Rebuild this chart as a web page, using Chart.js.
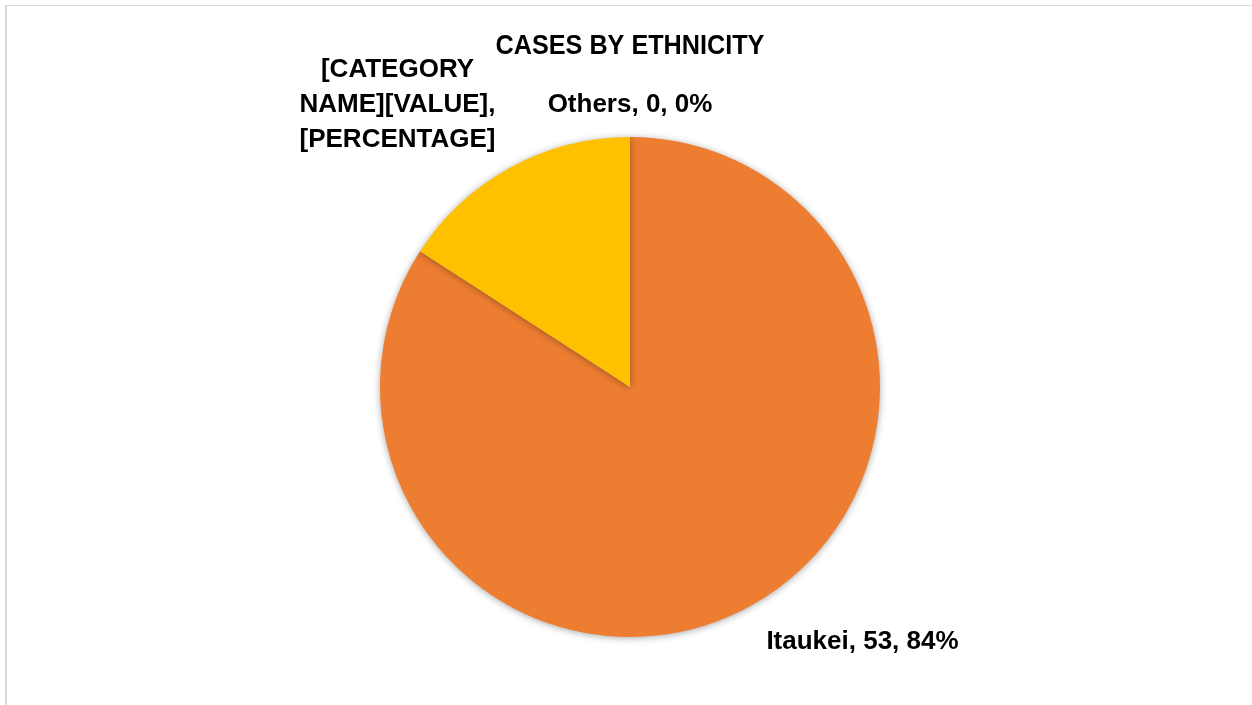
<!DOCTYPE html>
<html>
<head>
<meta charset="utf-8">
<script src="https://cdn.jsdelivr.net/npm/chart.js@4/dist/chart.umd.min.js"></script>
<style>
  html, body { margin: 0; padding: 0; background: #fff; overflow: hidden; }
  #frame {
    position: absolute; left: 5px; top: 5px; width: 1300px; height: 760px;
    border-left: 2px solid #d9d9d9; border-top: 1px solid #d9d9d9;
  }
  #wrap { position: absolute; left: 0; top: 0; width: 1252px; height: 705px; }
</style>
</head>
<body>
<div id="frame"></div>
<div id="wrap"><canvas id="pie"></canvas></div>
<script>
// chart data
const chartTitle = 'CASES BY ETHNICITY';
const categories = ['Itaukei', '[CATEGORY NAME]', 'Others'];
const caseCounts = [53, 10, 0];
const sliceColors = ['#ED7D31', '#FFC000', '#A5A5A5'];
// the second label is broken in the original file, it shows the field codes
const brokenLabel = [false, true, false];

const FONT = '"Liberation Sans", Arial, sans-serif';

function labelLines(i) {
  if (brokenLabel[i]) return ['[CATEGORY', 'NAME][VALUE],', '[PERCENTAGE]'];
  const total = caseCounts.reduce(function(s, v) { return s + v; }, 0);
  const pct = Math.round(caseCounts[i] / total * 100);
  return [categories[i] + ', ' + caseCounts[i] + ', ' + pct + '%'];
}

// where each label sits, in radii from the pie centre
const labelSpots = [
  { dx: 0.93, dy: 1.02 },
  { dx: -0.93, dy: -1.13 },
  { dx: 0, dy: -1.13 }
];

// soft shadow round the pie, like the Excel one
const shadowPlugin = {
  id: 'pieShadow',
  beforeDatasetsDraw(chart) {
    const ctx = chart.ctx;
    ctx.save();
    ctx.shadowColor = 'rgba(0,0,0,0.35)';
    ctx.shadowBlur = 7;
    ctx.shadowOffsetX = 0;
    ctx.shadowOffsetY = 1;
  },
  afterDatasetsDraw(chart) {
    chart.ctx.restore();
  }
};

// title drawn by hand so it can be squeezed a little (Calibri is narrow)
const titlePlugin = {
  id: 'narrowTitle',
  afterDraw(chart) {
    const ctx = chart.ctx;
    const arc = chart.getDatasetMeta(0).data[0];
    ctx.save();
    ctx.fillStyle = '#000';
    ctx.font = 'bold 28px ' + FONT;
    ctx.textAlign = 'center';
    ctx.textBaseline = 'middle';
    ctx.translate(arc.x, 46);
    ctx.scale(0.9, 1);
    ctx.fillText(chartTitle, 0, 0);
    ctx.restore();
  }
};

const labelPlugin = {
  id: 'sliceLabels',
  afterDraw(chart) {
    const ctx = chart.ctx;
    const arcs = chart.getDatasetMeta(0).data;
    ctx.save();
    ctx.fillStyle = '#000';
    ctx.font = 'bold 26px ' + FONT;
    ctx.textAlign = 'center';
    ctx.textBaseline = 'middle';
    arcs.forEach(function(arc, i) {
      const r = arc.outerRadius;
      const x = arc.x + labelSpots[i].dx * r;
      const y = arc.y + labelSpots[i].dy * r;
      const lines = labelLines(i);
      const lh = 35;
      lines.forEach(function(line, k) {
        ctx.fillText(line, x, y + (k - (lines.length - 1) / 2) * lh);
      });
    });
    ctx.restore();
  }
};

new Chart(document.getElementById('pie'), {
  type: 'pie',
  data: {
    labels: categories,
    datasets: [{
      data: caseCounts,
      backgroundColor: sliceColors,
      borderWidth: 0
    }]
  },
  options: {
    responsive: true,
    maintainAspectRatio: false,
    animation: false,
    layout: { padding: { top: 137, bottom: 68, left: 8, right: 0 } },
    plugins: {
      legend: { display: false },
      tooltip: { enabled: false },
      title: { display: false }
    }
  },
  plugins: [shadowPlugin, titlePlugin, labelPlugin]
});
</script>
</body>
</html>
